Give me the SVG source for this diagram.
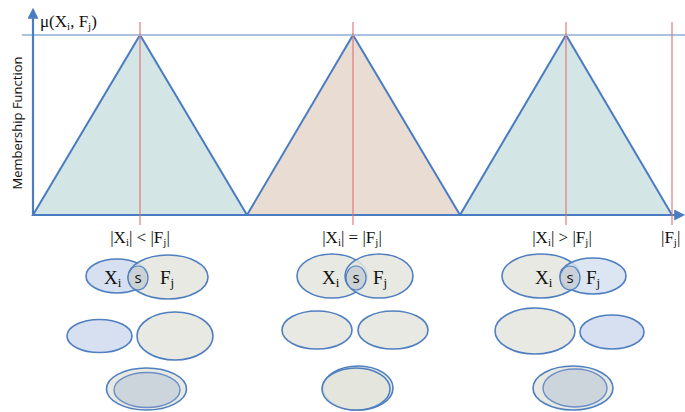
<svg xmlns="http://www.w3.org/2000/svg" width="685" height="412" viewBox="0 0 685 412">
<style>
.tri{stroke:#4a7cc2;stroke-width:2;stroke-linejoin:miter}
.red{stroke:#e07070;stroke-width:1.1}
.ax{stroke:#4a7cc2;stroke-width:2.2;fill:none}
.lbl{font-family:"Liberation Serif","DejaVu Serif",serif;font-size:17px;fill:#111}
.ser{font-family:"Liberation Serif","DejaVu Serif",serif;font-size:19px;fill:#111}
.sans{font-family:"Open Sans","Liberation Sans",sans-serif;font-size:15px;fill:#111}
.eb{fill:#d6e0f0;stroke:#4f7fc0;stroke-width:1.6}
.eg{fill:#e3e5dd;stroke:#4f7fc0;stroke-width:1.6;fill-opacity:0.85}
.es{fill:#c8cfd5;stroke:#4f7fc0;stroke-width:1.2;fill-opacity:0.9}
.ei{fill:#cdd5dc;stroke:#6a8fc6;stroke-width:1.4}
</style>
<defs>
<marker id="ah" viewBox="0 0 10 10" refX="8" refY="5" markerWidth="5" markerHeight="5" orient="auto">
<path d="M0,0 L10,5 L0,10 z" fill="#4a7cc2"/>
</marker>
</defs>
<rect width="685" height="412" fill="#ffffff"/>
<g id="triangles">
<polygon class="tri" points="33,215 140,35 247,215" fill="#d3e5e5"/>
<polygon class="tri" points="247,215 353,35 460,215" fill="#e9ddd3"/>
<polygon class="tri" points="460,215 566,35 672,215" fill="#d3e5e5"/>
</g>
<line x1="22" y1="35" x2="685" y2="35" stroke="#a9c3de" stroke-width="2"/>
<g id="connectors">
<line class="ax" x1="33" y1="216" x2="33" y2="10" marker-end="url(#ah)"/>
<line class="ax" x1="32" y1="215" x2="683" y2="215" marker-end="url(#ah)"/>
<line class="red" x1="140" y1="22" x2="140" y2="225"/>
<line class="red" x1="353" y1="22" x2="353" y2="225"/>
<line class="red" x1="566" y1="22" x2="566" y2="225"/>
<line class="red" x1="672" y1="22" x2="672" y2="225"/>
</g>
<text class="lbl" x="40" y="27" font-size="16">μ(X<tspan font-size="11" dy="3">i</tspan><tspan dy="-3">, F</tspan><tspan font-size="11" dy="3">j</tspan><tspan dy="-3">)</tspan></text>
<text font-family="'Open Sans','Liberation Sans',sans-serif" font-size="13" fill="#111" text-anchor="middle" transform="translate(22,123) rotate(-90)">Membership Function</text>
<text class="lbl" x="140" y="243" text-anchor="middle">|X<tspan font-size="11" dy="3">i</tspan><tspan dy="-3">| &lt; |F</tspan><tspan font-size="11" dy="3">j</tspan><tspan dy="-3">|</tspan></text>
<text class="lbl" x="352" y="243" text-anchor="middle">|X<tspan font-size="11" dy="3">i</tspan><tspan dy="-3">| = |F</tspan><tspan font-size="11" dy="3">j</tspan><tspan dy="-3">|</tspan></text>
<text class="lbl" x="562" y="243" text-anchor="middle">|X<tspan font-size="11" dy="3">i</tspan><tspan dy="-3">| &gt; |F</tspan><tspan font-size="11" dy="3">j</tspan><tspan dy="-3">|</tspan></text>
<text class="lbl" x="661" y="243">|F<tspan font-size="11" dy="3">j</tspan><tspan dy="-3">|</tspan></text>
<g id="col1-venn">
<ellipse class="eb" cx="117" cy="276" rx="31" ry="17"/>
<ellipse class="eg" cx="168" cy="277" rx="40" ry="22"/>
<ellipse class="es" cx="138" cy="278" rx="10" ry="12"/>
<text class="ser" x="104" y="284">X<tspan font-size="13" dy="3">i</tspan></text>
<text class="sans" x="138" y="283" text-anchor="middle">s</text>
<text class="ser" x="160" y="284">F<tspan font-size="13" dy="3">j</tspan></text>
</g>
<g id="col1-disjoint">
<ellipse class="eb" cx="99.5" cy="336" rx="32.5" ry="16.5"/>
<ellipse class="eg" cx="175" cy="336" rx="38" ry="24"/>
</g>
<g id="col1-nested">
<ellipse class="eg" cx="146.5" cy="389" rx="40" ry="21"/>
<ellipse class="ei" cx="147" cy="390" rx="33" ry="17.5"/>
</g>
<g id="col2-venn">
<ellipse class="eg" cx="332" cy="276" rx="35" ry="22"/>
<ellipse class="eg" cx="379" cy="276" rx="34" ry="22"/>
<ellipse class="es" cx="356" cy="278" rx="10" ry="12"/>
<text class="ser" x="322" y="284">X<tspan font-size="13" dy="3">i</tspan></text>
<text class="sans" x="356" y="283" text-anchor="middle">s</text>
<text class="ser" x="373" y="284">F<tspan font-size="13" dy="3">j</tspan></text>
</g>
<g id="col2-disjoint">
<ellipse class="eg" cx="317" cy="330" rx="35" ry="19"/>
<ellipse class="eg" cx="393" cy="330" rx="35" ry="19"/>
</g>
<g id="col2-nested">
<ellipse class="eg" cx="358" cy="388" rx="35" ry="22"/>
<ellipse class="eg" cx="356" cy="389" rx="34" ry="21"/>
</g>
<g id="col3-venn">
<ellipse class="eg" cx="541" cy="276" rx="39" ry="22"/>
<ellipse class="eb" cx="593" cy="276" rx="33" ry="18" fill-opacity="0.85"/>
<ellipse class="es" cx="570" cy="278" rx="10" ry="12"/>
<text class="ser" x="535" y="284">X<tspan font-size="13" dy="3">i</tspan></text>
<text class="sans" x="570" y="283" text-anchor="middle">s</text>
<text class="ser" x="586" y="284">F<tspan font-size="13" dy="3">j</tspan></text>
</g>
<g id="col3-disjoint">
<ellipse class="eg" cx="535" cy="331" rx="40" ry="23"/>
<ellipse class="eb" cx="612" cy="332" rx="32" ry="17"/>
</g>
<g id="col3-nested">
<ellipse class="eg" cx="573" cy="388" rx="40" ry="22"/>
<ellipse class="ei" cx="575" cy="388" rx="32" ry="19"/>
</g>
</svg>
